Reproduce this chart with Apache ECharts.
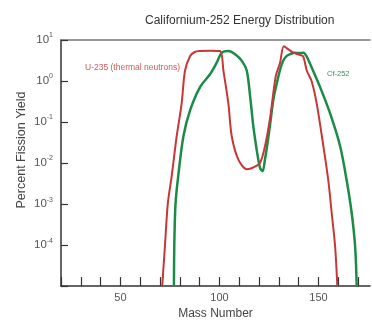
<!DOCTYPE html>
<html>
<head>
<meta charset="utf-8">
<script src="https://cdn.jsdelivr.net/npm/echarts@6/dist/echarts.min.js"></script>
<style>
    html, body { margin: 0; padding: 0; background: #fff; }
    #chart { width: 372px; height: 325px; }
</style>
</head>
<body>
<div id="chart"></div>
<script>
// mass number ticks (labels only on 50, 100, 150)
var massTicks = [20, 30, 40, 50, 60, 70, 80, 90, 100, 110, 120, 130, 140, 150, 160, 170];
var massLabels = [50, 100, 150];
// yield ticks, powers of ten
var yieldTicks = [1e-5, 1e-4, 1e-3, 1e-2, 1e-1, 1, 10];

// U-235 (thermal neutrons): mass number / percent yield
var u235Mass = [71.1, 72.5, 73.9, 75.9, 78.4, 80.9, 82.6, 85.2, 87.5, 90.2, 95, 100.3,
    102, 104.5, 106.2, 109.5, 113.8, 117.1, 120.5, 123, 125.6, 128.4, 130.6, 132.5,
    135, 137.3, 140, 142.2, 144.1, 146.5, 149.1, 152.5, 155, 156.7, 158.4, 159.5];
var u235Yield = [1e-5, 1e-4, 1e-3, 0.0049, 0.045, 0.28, 1.78, 4.07, 5.1, 5.4, 5.5, 5.4,
    1.78, 0.28, 0.045, 0.0123, 0.0071, 0.0078, 0.0102, 0.026, 0.13, 1.3, 2.8, 7.0,
    5.8, 4.9, 4.4, 4.0, 1.78, 1.0, 0.28, 0.025, 0.0036, 0.00058, 0.000091, 1e-5];

// Cf-252
var cfMass = [77.0, 77.2, 77.8, 79.2, 81.8, 85.2, 90.2, 95.3, 98.6, 101.2, 104.5, 107.9,
    111.3, 113.8, 115.5, 117.1, 118.8, 120.5, 121.8, 123, 124, 125.6, 127.2, 129,
    130.6, 132.3, 134, 136, 138, 140, 142.4, 144, 145.8, 150.8, 155.9, 160.9,
    164.3, 166.8, 168.5, 169.3];
var cfYield = [1e-5, 1e-4, 1e-3, 0.0049, 0.045, 0.195, 0.71, 1.48, 2.8, 4.9, 5.4, 4.5,
    3.1, 1.78, 0.41, 0.078, 0.021, 0.0076, 0.0063, 0.0126, 0.025, 0.09, 0.35, 0.9,
    1.9, 3.2, 4.1, 4.6, 4.9, 4.8, 4.9, 4.0, 2.6, 0.71, 0.16, 0.026,
    0.0036, 0.00058, 0.000091, 1e-5];

var redColor = "#c93636",
    greenColor = "#1b8c48",
    font = "Liberation Sans";

function pairs(xs, ys) {
    var out = [];
    for (var i = 0; i < xs.length; i++) {
        out.push([xs[i], ys[i]]);
    }
    return out;
}

var chart = echarts.init(document.getElementById("chart"));

var option = {
    backgroundColor: "#fff",
    animation: false,
    title: {
        text: "Californium-252 Energy Distribution",
        left: 140,
        top: 10,
        textStyle: { fontFamily: font, fontSize: 12, fontWeight: "normal", color: "#333" }
    },
    grid: { left: 61, top: 40, right: 2, bottom: 33 },
    xAxis: [{
        type: "value",
        min: 20,
        max: 176,
        interval: 10,
        name: "Mass Number",
        nameLocation: "middle",
        nameGap: 19,
        nameTextStyle: { fontFamily: font, fontSize: 12, color: "#444" },
        axisLine: { lineStyle: { color: "#333", width: 1.5 } },
        axisTick: { inside: true, length: 9, lineStyle: { color: "#333", width: 1.2 } },
        splitLine: { show: false },
        axisLabel: {
            fontFamily: font,
            fontSize: 11,
            color: "#555",
            margin: 6,
            showMaxLabel: false,
            formatter: function(v) {
                return massLabels.indexOf(v) >= 0 ? String(v) : "";
            }
        }
    }, {
        // top border line
        type: "value",
        position: "top",
        min: 20,
        max: 176,
        axisLine: { lineStyle: { color: "#777", width: 1.5 } },
        axisTick: { show: false },
        axisLabel: { show: false },
        splitLine: { show: false }
    }],
    yAxis: {
        type: "log",
        logBase: 10,
        min: yieldTicks[0],
        max: yieldTicks[yieldTicks.length - 1],
        axisLine: { show: true, lineStyle: { color: "#333", width: 1.5 } },
        axisTick: { show: true, inside: true, length: 7, lineStyle: { color: "#333", width: 1.2 } },
        minorTick: { show: false },
        splitLine: { show: false },
        axisLabel: {
            margin: 8,
            color: "#555",
            fontFamily: font,
            formatter: function(v) {
                var e = Math.round(Math.log10(v));
                if (e <= -5) return "";
                return "{b|10}{s|" + e + "}";
            },
            rich: {
                b: { fontSize: 11.5, color: "#555", fontFamily: font },
                s: { fontSize: 7, color: "#555", fontFamily: font, padding: [0, 0, 9, 0] }
            }
        }
    },
    graphic: [{
        type: "text",
        x: 22,
        y: 150,
        rotation: Math.PI / 2,
        style: {
            text: "Percent Fission Yield",
            fontFamily: font,
            fontSize: 12.5,
            fill: "#444",
            align: "center",
            verticalAlign: "middle"
        }
    }, {
        type: "text",
        x: 85,
        y: 68,
        style: {
            text: "U-235 (thermal neutrons)",
            fontFamily: font,
            fontSize: 8.5,
            fill: "#cf5a55",
            verticalAlign: "middle"
        }
    }, {
        type: "text",
        x: 327,
        y: 74,
        style: {
            text: "Cf-252",
            fontFamily: font,
            fontSize: 7.5,
            fill: "#3c8f63",
            verticalAlign: "middle"
        }
    }],
    series: [{
        name: "U-235",
        type: "line",
        data: pairs(u235Mass, u235Yield),
        smooth: 0.3,
        showSymbol: false,
        lineStyle: { color: redColor, width: 2 },
        z: 3
    }, {
        name: "Cf-252",
        type: "line",
        data: pairs(cfMass, cfYield),
        smooth: 0.3,
        showSymbol: false,
        lineStyle: { color: greenColor, width: 2.5 },
        z: 2
    }]
};

chart.setOption(option);
</script>
</body>
</html>
